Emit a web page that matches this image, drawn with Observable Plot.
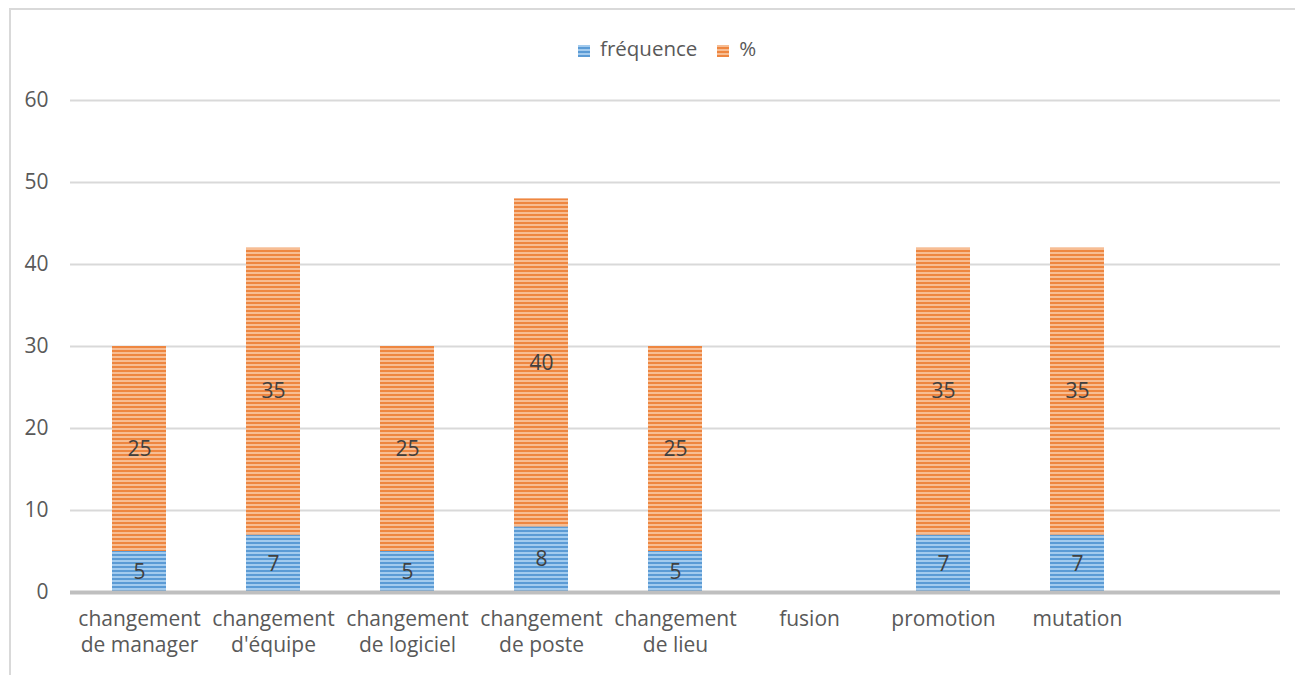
<!DOCTYPE html>
<html>
<head>
<meta charset="utf-8">
<script src="https://cdn.jsdelivr.net/npm/d3@7"></script>
<script src="https://cdn.jsdelivr.net/npm/@observablehq/plot@0.6"></script>
<style>
  html, body { margin: 0; padding: 0; background: #fff; }
  body { width: 1295px; height: 675px; position: relative; overflow: hidden; font-family: "Open Sans", sans-serif; }
  #frame { position: absolute; left: 9px; top: 8px; width: 1400px; height: 800px; border-left: 2px solid #d9d9d9; border-top: 2px solid #d9d9d9; }
  #chart { position: absolute; left: 0; top: 0; }
  #legend { position: absolute; left: 578px; top: 34px; font-size: 20.5px; color: #595959; white-space: nowrap; line-height: 28px; }
  #legend span.item { display: inline-block; margin-right: 20px; }
  #legend span.sw { display: inline-block; width: 12px; height: 12px; margin-right: 10px; vertical-align: -1px; }
</style>
</head>
<body>
<div id="frame"></div>
<div id="chart"></div>
<div id="legend"></div>
<script>
const categories = ["changement de manager", "changement d'équipe", "changement de logiciel", "changement de poste", "changement de lieu", "fusion", "promotion", "mutation"];
const frequence = [5, 7, 5, 8, 5, 0, 7, 7];
const pourcent = [25, 35, 25, 40, 25, 0, 35, 35];
const seriesNames = ["fréquence", "%"];
const yTicks = [0, 10, 20, 30, 40, 50, 60];
const emptySlot = " ";

const rows = categories.flatMap((c, i) => [
  {cat: c, series: seriesNames[0], value: frequence[i]},
  {cat: c, series: seriesNames[1], value: pourcent[i]}
]).filter(d => d.value > 0);

const splitLabel = s => s.startsWith("changement ") ? "changement\n" + s.slice(11) : s;

const svg = Plot.plot({
  width: 1295,
  height: 675,
  marginLeft: 70,
  marginRight: 15,
  marginTop: 100,
  marginBottom: 83,
  style: {fontFamily: "'Open Sans', sans-serif", fontSize: "21px", color: "#595959", background: "transparent"},
  x: {domain: [...categories, emptySlot], paddingInner: 0.6, paddingOuter: 0.3, label: null},
  y: {domain: [0, 60], ticks: yTicks, label: null},
  color: {type: "ordinal", domain: seriesNames, range: ["url(#pBlue)", "url(#pOrange)"]},
  marks: [
    Plot.gridY(yTicks.filter(t => t > 0), {stroke: "#d9d9d9", strokeOpacity: 1, strokeWidth: 2}),
    Plot.axisY(yTicks, {tickSize: 0, tickPadding: 22, fontSize: 21, fill: "#595959", label: null}),
    Plot.barY(rows, {x: "cat", y: "value", fill: "series"}),
    Plot.ruleY([0], {stroke: "#bfbfbf", strokeWidth: 4}),
    Plot.text(rows, Plot.stackY({x: "cat", y: "value", text: d => String(d.value), fill: "#404040", fontSize: 21})),
    Plot.axisX({tickSize: 0, tickPadding: 16, fontSize: 21, fill: "#595959", lineHeight: 1.2, tickFormat: d => splitLabel(d), label: null})
  ]
});

svg.insertAdjacentHTML("afterbegin", `
<defs>
  <pattern id="pBlue" patternUnits="userSpaceOnUse" width="8" height="4">
    <rect width="8" height="4" fill="#5b9bd5"/>
    <rect y="0" width="8" height="2" fill="#a3cbee"/>
  </pattern>
  <pattern id="pOrange" patternUnits="userSpaceOnUse" width="8" height="4">
    <rect width="8" height="4" fill="#ee8640"/>
    <rect y="0" width="8" height="2" fill="#f7bd93"/>
  </pattern>
</defs>`);
document.getElementById("chart").appendChild(svg);

const swatches = {"fréquence": "repeating-linear-gradient(#a3cbee 0 2px, #5b9bd5 2px 4px)", "%": "repeating-linear-gradient(#f7bd93 0 2px, #ee8640 2px 4px)"};
document.getElementById("legend").innerHTML = seriesNames.map(s =>
  `<span class="item"><span class="sw" style="background:${swatches[s]}"></span>${s}</span>`).join("");
</script>
</body>
</html>
